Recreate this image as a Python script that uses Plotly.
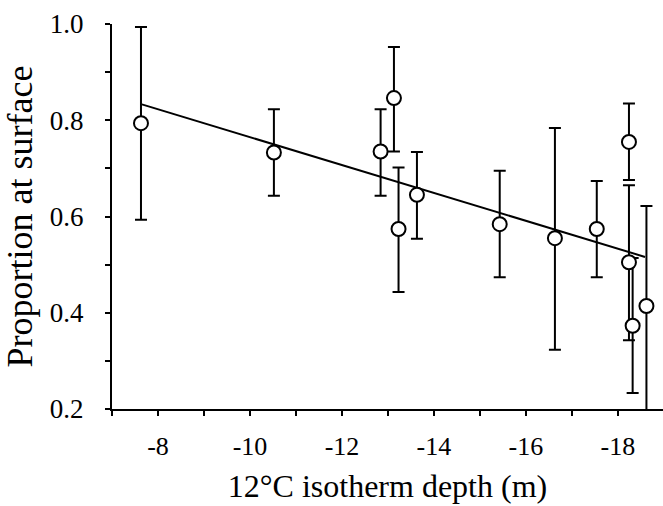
import plotly.graph_objects as go

# Data
isotherm_depth = [-7.63, -10.52, -12.84, -13.13, -13.23, -13.63, -15.43, -16.63, -17.54, -18.24, -18.24, -18.32, -18.62]
proportion = [0.794, 0.733, 0.735, 0.846, 0.574, 0.645, 0.584, 0.555, 0.574, 0.755, 0.505, 0.373, 0.414]
ci_upper = [0.994, 0.823, 0.823, 0.952, 0.702, 0.734, 0.695, 0.784, 0.674, 0.835, 0.665, 0.514, 0.622]
ci_lower = [0.593, 0.643, 0.643, 0.735, 0.443, 0.554, 0.474, 0.323, 0.474, 0.676, 0.343, 0.233, 0.19]

fit_x = [-7.65, -18.59]
fit_y = [0.833, 0.516]

x_tickvals = [-8, -10, -12, -14, -16, -18]
x_ticktext = ["-8", "-10", "-12", "-14", "-16", "-18"]
y_tickvals = [0.2, 0.4, 0.6, 0.8, 1.0]
y_ticktext = ["0.2", "0.4", "0.6", "0.8", "1.0"]

err_plus = [u - p for u, p in zip(ci_upper, proportion)]
err_minus = [p - l for p, l in zip(proportion, ci_lower)]

FONT = "Liberation Serif, Times New Roman, serif"

fig = go.Figure()
fig.add_trace(go.Scatter(
    x=fit_x, y=fit_y, mode="lines",
    line=dict(color="black", width=2),
    hoverinfo="skip", cliponaxis=False,
))
fig.add_trace(go.Scatter(
    x=isotherm_depth, y=proportion, mode="markers",
    marker=dict(symbol="circle", size=14, color="white",
                line=dict(color="black", width=2)),
    error_y=dict(type="data", symmetric=False, array=err_plus,
                 arrayminus=err_minus, color="black", thickness=2, width=6),
    cliponaxis=True,
))

fig.update_layout(
    width=663, height=506,
    margin=dict(l=112, r=0, t=24, b=97),
    paper_bgcolor="white", plot_bgcolor="white",
    showlegend=False,
    font=dict(family=FONT, color="black"),
    xaxis=dict(
        range=[-7, -18.98], showgrid=False, zeroline=False, automargin=False,
        showline=True, linecolor="black", linewidth=2,
        ticks="outside", ticklen=5, tickwidth=2, tickcolor="black",
        tickvals=x_tickvals, ticktext=x_ticktext,
        minor=dict(dtick=1, ticks="outside", ticklen=5, tickwidth=2, tickcolor="black", tick0=-7),
        tickfont=dict(size=26, family=FONT),
        ticklabelstandoff=8,
        title=dict(text="12°C isotherm depth (m)", font=dict(size=32, family=FONT), standoff=14),
    ),
    yaxis=dict(
        range=[0.2, 1.0], showgrid=False, zeroline=False, automargin=False,
        showline=True, linecolor="black", linewidth=2,
        ticks="outside", ticklen=5, tickwidth=2, tickcolor="black",
        tickvals=y_tickvals, ticktext=y_ticktext,
        minor=dict(dtick=0.1, ticks="outside", ticklen=5, tickwidth=2, tickcolor="black", tick0=0.2),
        tickfont=dict(size=27, family=FONT),
        ticklabelstandoff=16,
        title=dict(text="Proportion at surface", font=dict(size=36, family=FONT), standoff=8),
    ),
)

fig.write_html("out.html", config={"displayModeBar": False},
               post_script="document.body.style.margin='0';")
